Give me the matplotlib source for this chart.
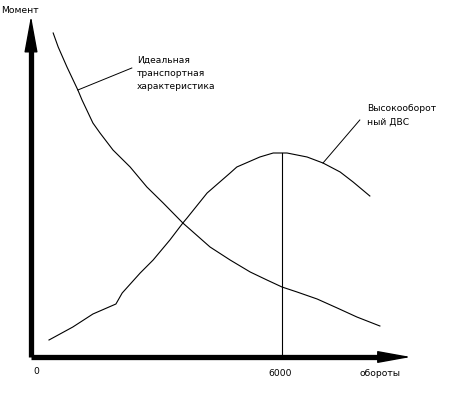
import matplotlib
matplotlib.use("Agg")
import matplotlib.pyplot as plt

# ideal traction characteristic (torque vs rpm, arbitrary torque units)
ideal_rpm = [530, 650, 860, 1120, 1220, 1480, 1650, 1960, 2370, 2770, 3160,
             3630, 4280, 4760, 5240, 5640, 6000, 6360, 6840, 7320, 7790, 8340]
ideal_torque = [324, 310, 290, 267, 257, 234, 224, 207, 190, 170, 154,
                134, 110, 97, 85, 77, 70, 65, 58, 49, 40, 31]

# high-revving engine
ice_rpm = [430, 1000, 1480, 2030, 2180, 2610, 2920, 3320, 3630, 3730, 4210,
           4760, 4920, 5470, 5790, 6000, 6120, 6600, 6980, 7390, 7700, 8100]
ice_torque = [17, 30, 43, 53, 64, 84, 97, 117, 134, 139, 164,
              184, 190, 200, 204, 204, 204, 200, 194, 185, 175, 161]

peak_rpm = 6000
peak_torque = 204

fig = plt.figure(figsize=(4.5, 3.94), dpi=100)
ax = fig.add_axes([0, 0, 1, 1])
ax.set_xlim(-741, 10016)
ax.set_ylim(-37, 357)
ax.axis("off")

# axes drawn as thick arrows
ax.plot([0, 0], [0, 320], color="black", lw=3.8, solid_capstyle="butt")
ax.plot([0, 8300], [0, 0], color="black", lw=3.8, solid_capstyle="butt")
ax.annotate("", xy=(0, 341), xytext=(0, 300),
            arrowprops=dict(arrowstyle="-|>,head_length=2.3,head_width=0.42",
                            mutation_scale=10, lw=1, color="black",
                            shrinkA=0, shrinkB=0))
ax.annotate("", xy=(9080, 0), xytext=(8200, 0),
            arrowprops=dict(arrowstyle="-|>,head_length=2.1,head_width=0.38",
                            mutation_scale=10, lw=1, color="black",
                            shrinkA=0, shrinkB=0))

ax.plot(ideal_rpm, ideal_torque, color="black", lw=0.8)
ax.plot(ice_rpm, ice_torque, color="black", lw=0.8)
ax.plot([peak_rpm, peak_rpm], [0, peak_torque], color="black", lw=0.8)

# leader lines
ax.plot([1120, 2410], [267, 289], color="black", lw=0.7)
ax.plot([6980, 7860], [194, 237], color="black", lw=0.7)

fs = 6.6
ax.text(-717, 347, "Момент", fontsize=fs, ha="left", va="center")
ax.text(48, -15, "0", fontsize=fs, ha="left", va="center")
ax.text(5950, -16, "6000", fontsize=fs, ha="center", va="center")
ax.text(7860, -17, "обороты", fontsize=fs, ha="left", va="center")
ax.text(2530, 297, "Идеальная", fontsize=fs, ha="left", va="center")
ax.text(2530, 284, "транспортная", fontsize=fs, ha="left", va="center")
ax.text(2530, 271, "характеристика", fontsize=fs, ha="left", va="center")
ax.text(8030, 249, "Высокооборот", fontsize=fs, ha="left", va="center")
ax.text(8030, 235, "ный ДВС", fontsize=fs, ha="left", va="center")

fig.savefig("out.png", dpi=100)
